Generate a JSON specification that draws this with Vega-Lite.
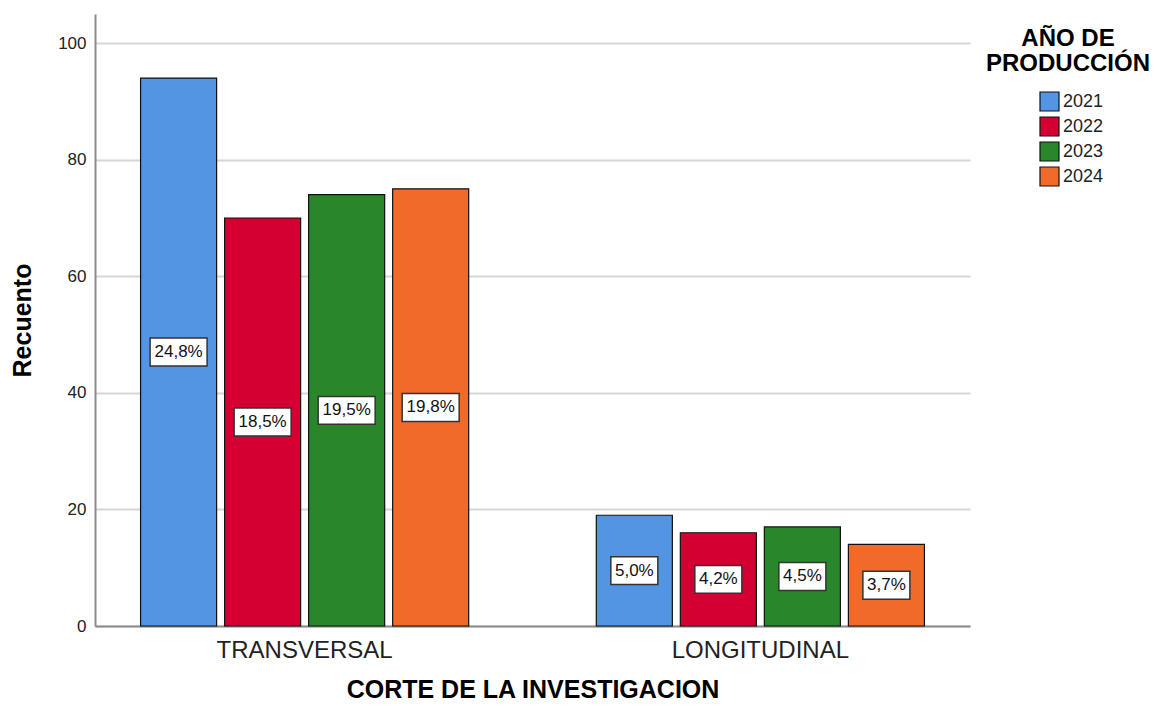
{
  "$schema": "https://vega.github.io/schema/vega-lite/v6.json",
  "width": 875,
  "height": 612,
  "padding": {"left": 10, "top": 14, "right": 5, "bottom": 5},
  "background": "white",
  "config": {"font": "Liberation Sans", "view": {"stroke": null}},
  "data": {
    "values": [
      {"corte": "TRANSVERSAL", "anio": "2021", "recuento": 94, "label": "24,8%"},
      {"corte": "TRANSVERSAL", "anio": "2022", "recuento": 70, "label": "18,5%"},
      {"corte": "TRANSVERSAL", "anio": "2023", "recuento": 74, "label": "19,5%"},
      {"corte": "TRANSVERSAL", "anio": "2024", "recuento": 75, "label": "19,8%"},
      {"corte": "LONGITUDINAL", "anio": "2021", "recuento": 19, "label": "5,0%"},
      {"corte": "LONGITUDINAL", "anio": "2022", "recuento": 16, "label": "4,2%"},
      {"corte": "LONGITUDINAL", "anio": "2023", "recuento": 17, "label": "4,5%"},
      {"corte": "LONGITUDINAL", "anio": "2024", "recuento": 14, "label": "3,7%"}
    ]
  },
  "encoding": {
    "x": {
      "field": "corte", "type": "nominal",
      "sort": ["TRANSVERSAL", "LONGITUDINAL"],
      "scale": {"paddingInner": 0.28, "paddingOuter": 0.1},
      "title": "CORTE DE LA INVESTIGACION",
      "axis": {
        "labelAngle": 0, "ticks": false, "domainColor": "#8c8c8c", "domainWidth": 2,
        "labelFontSize": 24, "labelColor": "#222222", "labelPadding": 12,
        "titleFontSize": 25, "titleFontWeight": "bold", "titleColor": "#000000", "titlePadding": 15
      }
    },
    "xOffset": {
      "field": "anio", "type": "nominal",
      "scale": {"paddingInner": 0.095, "paddingOuter": 0}
    }
  },
  "layer": [
    {
      "mark": {"type": "bar", "stroke": "#111111", "strokeWidth": 1.2},
      "encoding": {
        "y": {
          "field": "recuento", "type": "quantitative",
          "scale": {"domain": [0, 105], "nice": false},
          "title": "Recuento",
          "axis": {
            "values": [0, 20, 40, 60, 80, 100], "grid": true, "gridColor": "#d6d6d6", "gridWidth": 2,
            "ticks": false, "domainColor": "#8c8c8c", "domainWidth": 2,
            "labelFontSize": 17, "labelColor": "#222222", "labelPadding": 9,
            "titleFontSize": 25, "titleFontWeight": "bold", "titleColor": "#000000", "titlePadding": 22
          }
        },
        "color": {
          "field": "anio", "type": "nominal",
          "scale": {"domain": ["2021", "2022", "2023", "2024"], "range": ["#5394E3", "#D50032", "#2A862A", "#F26A2A"]},
          "legend": {
            "orient": "none", "legendX": 891, "legendY": 13,
            "title": ["AÑO DE", "PRODUCCIÓN"],
            "titleFontSize": 24, "titleFontWeight": "bold", "titleColor": "#000000",
            "titleAnchor": "middle", "titleLineHeight": 25, "titlePadding": 15,
            "symbolType": "square", "symbolSize": 361, "symbolStrokeColor": "#111111", "symbolStrokeWidth": 1.2,
            "symbolOffset": 7, "labelFontSize": 18, "labelColor": "#222222", "rowPadding": 0, "labelOffset": 3
          }
        }
      }
    },
    {
      "transform": [{"calculate": "datum.recuento / 2", "as": "mid"}],
      "mark": {
        "type": "point", "filled": true, "fill": "#ffffff", "stroke": "#333333", "strokeWidth": 1.5,
        "opacity": 1, "size": 3249
      },
      "encoding": {
        "y": {"field": "mid", "type": "quantitative"},
        "shape": {
          "condition": {"test": "datum.recuento >= 38", "value": "M-1,-0.49H1V0.49H-1Z"},
          "value": "M-0.825,-0.49H0.825V0.49H-0.825Z"
        }
      }
    },
    {
      "transform": [{"calculate": "datum.recuento / 2", "as": "mid"}],
      "mark": {"type": "text", "fontSize": 17, "color": "#111111", "baseline": "middle", "align": "center"},
      "encoding": {
        "y": {"field": "mid", "type": "quantitative"},
        "text": {"field": "label"}
      }
    }
  ]
}
